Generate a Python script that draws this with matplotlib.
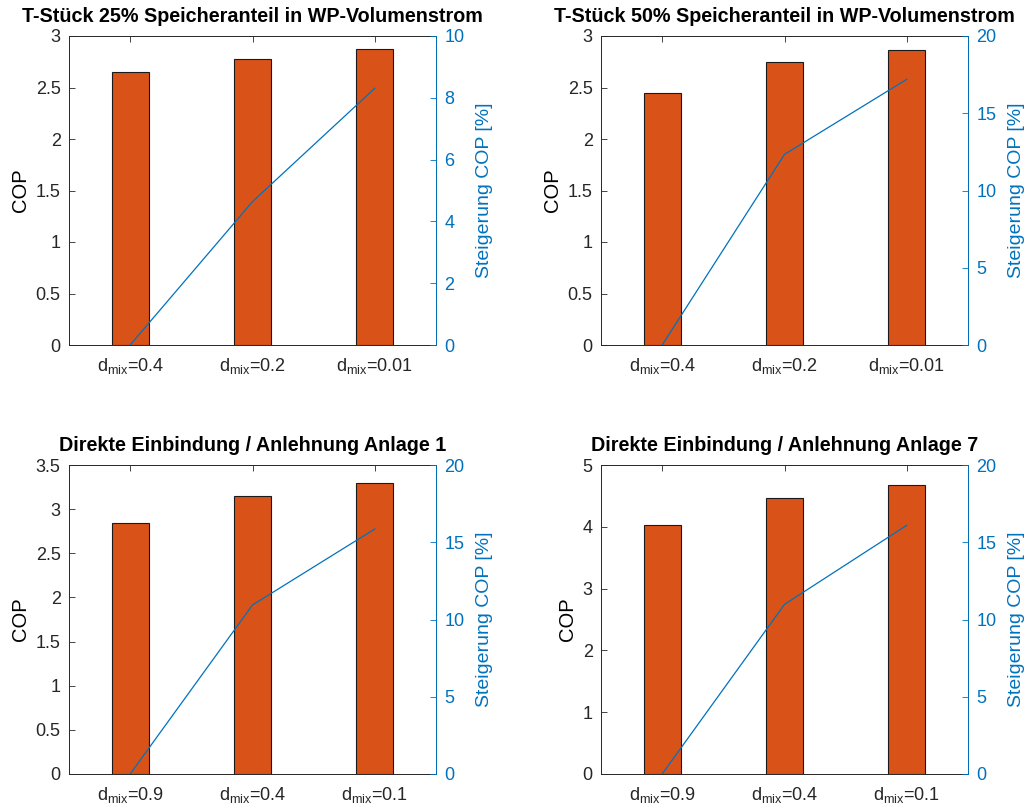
import numpy as np
import matplotlib.pyplot as plt

plt.rcParams['font.family'] = ['Liberation Sans', 'DejaVu Sans']
plt.rcParams['mathtext.fontset'] = 'custom'
plt.rcParams['mathtext.rm'] = 'Liberation Sans'

# Daten der vier Varianten
titles = ['T-Stück 25% Speicheranteil in WP-Volumenstrom',
          'T-Stück 50% Speicheranteil in WP-Volumenstrom',
          'Direkte Einbindung / Anlehnung Anlage 1',
          'Direkte Einbindung / Anlehnung Anlage 7']
labels_top = ['0.4', '0.2', '0.01']
labels_bottom = ['0.9', '0.4', '0.1']

cop_1 = [2.654, 2.774, 2.874]
cop_2 = [2.443, 2.745, 2.861]
cop_3 = [2.84, 3.149, 3.293]
cop_4 = [4.03, 4.471, 4.676]

steig_1 = [0, 4.64, 8.31]
steig_2 = [0, 12.34, 17.2]
steig_3 = [0, 10.94, 15.86]
steig_4 = [0, 10.98, 16.1]

cop_lim = [3, 3, 3.5, 5]
cop_ticks = [np.arange(0, 3.01, 0.5), np.arange(0, 3.01, 0.5),
             np.arange(0, 3.51, 0.5), np.arange(0, 5.01, 1)]
steig_lim = [10, 20, 20, 20]
steig_ticks = [np.arange(0, 11, 2), np.arange(0, 21, 5),
               np.arange(0, 21, 5), np.arange(0, 21, 5)]

cops = [cop_1, cop_2, cop_3, cop_4]
steigs = [steig_1, steig_2, steig_3, steig_4]
xlabels = [labels_top, labels_top, labels_bottom, labels_bottom]

orange = '#D95319'
blue = '#0072BD'
dark = '#262626'

W, H = 1027, 808
fig = plt.figure(figsize=(W / 100, H / 100), dpi=100)

# Achsenpositionen in Pixeln (links, unten-y)
boxes = [(69, 345), (601, 345), (69, 774), (601, 774)]
aw, ah = 367, 309

for i in range(4):
    x0, yb = boxes[i]
    ax = fig.add_axes([x0 / W, (H - yb) / H, aw / W, ah / H])
    x = np.arange(1, 4)
    ax.bar(x, cops[i], width=0.3, color=orange, edgecolor='#1a1a1a', linewidth=0.8, zorder=2)
    ax.set_xlim(0.5, 3.5)
    ax.set_ylim(0, cop_lim[i])
    ax.set_yticks(cop_ticks[i])
    ax.set_yticklabels(['%g' % v for v in cop_ticks[i]])
    ax.set_xticks(x)
    ax.set_xticklabels([r'd$_{\mathrm{mix}}$=' + l for l in xlabels[i]])
    ax.tick_params(axis='both', direction='in', length=4, labelsize=13, colors=dark,
                   top=True, width=0.6)
    ax.tick_params(axis='x', pad=8)
    ax.tick_params(axis='y', pad=6)
    ax.set_ylabel('COP', fontsize=14.5, color='black', labelpad=4)
    ax.set_title(titles[i], fontsize=14.2, fontweight='bold', pad=10)
    for s in ax.spines.values():
        s.set_color(dark)
        s.set_linewidth(0.7)

    ax2 = ax.twinx()
    ax2.plot(x, steigs[i], color=blue, linewidth=0.9, zorder=3)
    ax2.set_ylim(0, steig_lim[i])
    ax2.set_yticks(steig_ticks[i])
    ax2.tick_params(axis='y', direction='in', length=4, labelsize=13, colors=blue, width=0.6, pad=6)
    ax2.set_ylabel('Steigerung COP [%]', fontsize=14, color=blue, labelpad=8)
    ax2.spines['right'].set_color(blue)
    ax2.spines['right'].set_linewidth(0.7)
    for k in ['left', 'top', 'bottom']:
        ax2.spines[k].set_visible(False)

fig.savefig('out.png', dpi=100)
